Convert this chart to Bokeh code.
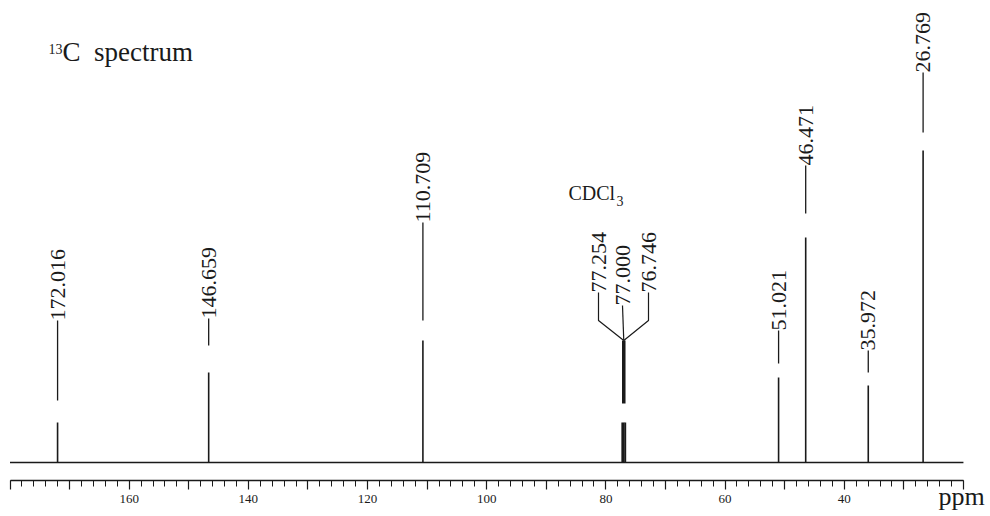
import math
from bokeh.plotting import figure
from bokeh.models import Range1d, FixedTicker, ColumnDataSource
from bokeh.core.properties import value
from bokeh.embed import file_html
from bokeh.resources import INLINE

# ---------------- data ----------------
peak_ppm = [172.016, 146.659, 110.709, 51.021, 46.471, 35.972, 26.769]
peak_height = [40, 90, 122, 85, 225, 77, 312]
peak_labels = ["172.016", "146.659", "110.709", "51.021", "46.471", "35.972", "26.769"]

solvent_ppm = [77.254, 77.000, 76.746]
solvent_height = [40, 40, 40]
solvent_labels = ["77.254", "77.000", "76.746"]

tick_values = list(range(20, 181, 10))
minor_tick_values = list(range(20, 181, 2))
tick_label_values = [160, 140, 120, 100, 80, 60, 40]

ppm_start, ppm_end = 180, 20

# ---------------- layout helpers (page pixels -> data) ----------------
W, H = 990, 516
PX_PER_PPM = 5.959
X_LEFT = 180 + 9.5 / PX_PER_PPM
BASE_PY = 462
AXIS_PY = 480


def px2x(px):
    return X_LEFT - px / PX_PER_PPM


def py2y(py):
    return BASE_PY - py


FONT = "Liberation Serif"
INK = "#1a1a1a"
LABEL_SIZE = "22px"

p = figure(width=W, height=H, output_backend="svg", toolbar_location=None,
           x_range=Range1d(X_LEFT, px2x(W)), y_range=Range1d(py2y(H), py2y(0)),
           min_border_left=0, min_border_right=0, min_border_top=0, min_border_bottom=0)
p.outline_line_color = None
p.grid.visible = False
p.yaxis.visible = False
p.background_fill_color = "white"
p.border_fill_color = "white"

ax = p.xaxis[0]
ax.fixed_location = py2y(AXIS_PY)
ax.bounds = (ppm_end, ppm_start)
ax.ticker = FixedTicker(ticks=tick_values, minor_ticks=minor_tick_values)
ax.major_label_overrides = {t: (str(t) if t in tick_label_values else "") for t in tick_values}
ax.major_tick_out = 9
ax.major_tick_in = 0
ax.minor_tick_out = 6
ax.minor_tick_in = 0
ax.axis_line_width = 1.3
ax.axis_line_color = INK
ax.major_tick_line_color = INK
ax.minor_tick_line_color = INK
ax.major_tick_line_width = 1.2
ax.minor_tick_line_width = 1.0
ax.major_label_text_font = FONT
ax.major_label_text_font_size = "13px"
ax.major_label_text_color = INK
ax.major_label_standoff = 5

# baseline
p.line([ppm_start, ppm_end], [0, 0], line_color=INK, line_width=1.4)

# peaks
src = ColumnDataSource(dict(x=peak_ppm, h=peak_height, z=[0] * len(peak_ppm), lab=peak_labels))
p.segment(x0="x", y0="z", x1="x", y1="h", source=src, line_color=INK, line_width=1.6)
solv = ColumnDataSource(dict(x=solvent_ppm, h=solvent_height, z=[0] * 3, lab=solvent_labels))
p.segment(x0="x", y0="z", x1="x", y1="h", source=solv, line_color=INK, line_width=1.8)

# leaders and labels for single peaks (layout: leader start page-y, text bottom page-y)
leader_start_py = [400, 345, 320, 363, 213, 372, 132]
text_bottom_py = [320, 318, 222, 330, 165, 350, 72]
lead = ColumnDataSource(dict(x=peak_ppm,
                             y0=[py2y(v) for v in leader_start_py],
                             y1=[py2y(v) for v in text_bottom_py],
                             lab=peak_labels))
p.segment(x0="x", y0="y0", x1="x", y1="y1", source=lead, line_color=INK, line_width=1.3)
p.text(x="x", y="y1", text="lab", source=lead, angle=math.pi / 2,
       text_align="left", text_baseline="middle", text_font=value(FONT),
       text_font_size=LABEL_SIZE, text_color=INK)

# solvent (CDCl3) triplet leaders
center = solvent_ppm[1]
label_px = [598, 622, 648]
label_bottom_py = [292, 305, 292]
knee_py = 320
junction_py = 340
solvent_leader_start_py = 403
xs, ys = [], []
for lp, lb in zip(label_px, label_bottom_py):
    lx = px2x(lp)
    if abs(lp - 622) < 1:
        xs.append([lx, center])
        ys.append([py2y(lb), py2y(junction_py)])
    else:
        xs.append([lx, lx, center])
        ys.append([py2y(lb), py2y(knee_py), py2y(junction_py)])
p.multi_line(xs=xs, ys=ys, line_color=INK, line_width=1.2)
p.multi_line(xs=[[center, center]], ys=[[py2y(junction_py), py2y(solvent_leader_start_py)]],
             line_color=INK, line_width=3.5)
solv_lab = ColumnDataSource(dict(x=[px2x(v) for v in label_px],
                                 y=[py2y(v) for v in label_bottom_py], lab=solvent_labels))
p.text(x="x", y="y", text="lab", source=solv_lab, angle=math.pi / 2,
       text_align="left", text_baseline="middle", text_font=value(FONT),
       text_font_size=LABEL_SIZE, text_color=INK)


def caption(txt, px, baseline_py, size_px):
    # the rendered alphabetic baseline sits about 0.44 em below the anchor
    py = baseline_py - 0.44 * size_px
    p.text(x=[px2x(px)], y=[py2y(py)], text=[txt], text_align="left",
           text_baseline="alphabetic", text_font=value(FONT),
           text_font_size=f"{size_px}px", text_color=INK)


# CDCl3 caption
caption("CDCl", 568, 201, 20)
caption("3", 616, 207, 14)

# title
caption("13", 48, 55, 14)
caption("C\u00a0\u00a0spectrum", 62, 63, 27)

# ppm unit
caption("ppm", 938, 507, 26)

open("out.html", "w").write(file_html(p, INLINE))
